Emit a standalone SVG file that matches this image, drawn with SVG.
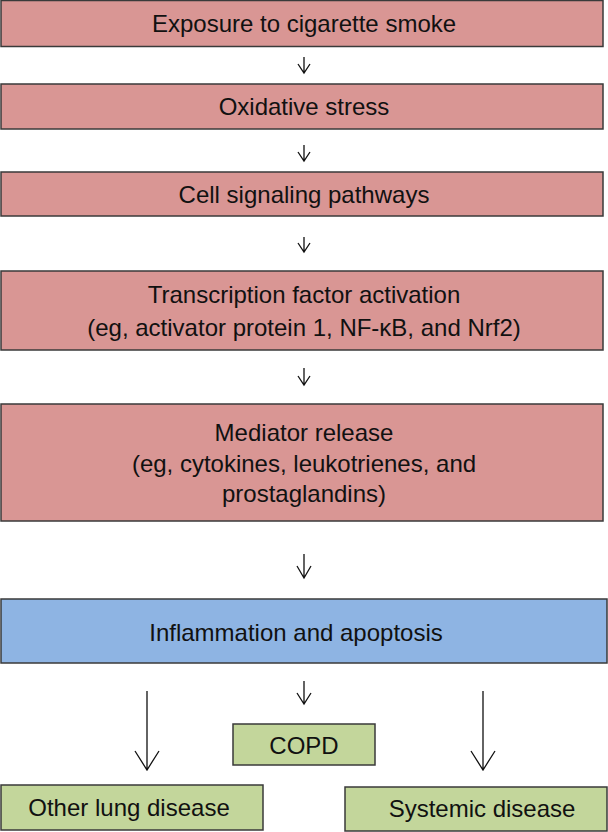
<svg xmlns="http://www.w3.org/2000/svg" width="608" height="832" viewBox="0 0 608 832">
<style>
.pink{fill:#d99694;stroke:#3a3a3a;stroke-width:1.5}
.blue{fill:#8eb4e3;stroke:#3a3a3a;stroke-width:1.5}
.green{fill:#c3d69b;stroke:#3a3a3a;stroke-width:1.5}
text{font-family:"Liberation Sans",Arial,sans-serif;font-size:24px;fill:#111;text-anchor:middle}
.arr{stroke:#111;stroke-width:1.3;fill:none}
</style>
<rect width="608" height="832" fill="#fff"/>
<g id="n1"><rect class="pink" x="1" y="0.5" width="602" height="46"/><text x="304" y="32">Exposure to cigarette smoke</text></g>
<g id="n2"><rect class="pink" x="1" y="84" width="602" height="45"/><text x="304" y="115">Oxidative stress</text></g>
<g id="n3"><rect class="pink" x="1" y="172" width="602" height="44"/><text x="304" y="203">Cell signaling pathways</text></g>
<g id="n4"><rect class="pink" x="1" y="271" width="602" height="79"/><text x="304" y="303">Transcription factor activation</text><text x="304" y="336">(eg, activator protein 1, NF-κB, and Nrf2)</text></g>
<g id="n5"><rect class="pink" x="1" y="404" width="602" height="117"/><text x="304" y="441">Mediator release</text><text x="304" y="472">(eg, cytokines, leukotrienes, and</text><text x="304" y="502">prostaglandins)</text></g>
<g id="n6"><rect class="blue" x="1" y="599" width="606" height="64"/><text x="296" y="641">Inflammation and apoptosis</text></g>
<g id="n7"><rect class="green" x="233" y="724" width="142" height="41"/><text x="304" y="754">COPD</text></g>
<g id="n8"><rect class="green" x="1" y="785" width="262" height="45"/><text x="129" y="816">Other lung disease</text></g>
<g id="n9"><rect class="green" x="345" y="787" width="262" height="44"/><text x="482" y="817">Systemic disease</text></g>
<g id="connectors" class="arr">
<path d="M304 57V73M298 64L304 73L310 64"/>
<path d="M304 145V161M298 152L304 161L310 152"/>
<path d="M304 237V252M298 243L304 252L310 243"/>
<path d="M304 368V385M298 376L304 385L310 376"/>
<path d="M304 554V578M297 566L304 578L311 566"/>
<path d="M304 681V704M297 693L304 704L311 693"/>
<path d="M147 691V770M135 751L147 770L159 751"/>
<path d="M483 691V770M471 751L483 770L495 751"/>
</g>
</svg>
